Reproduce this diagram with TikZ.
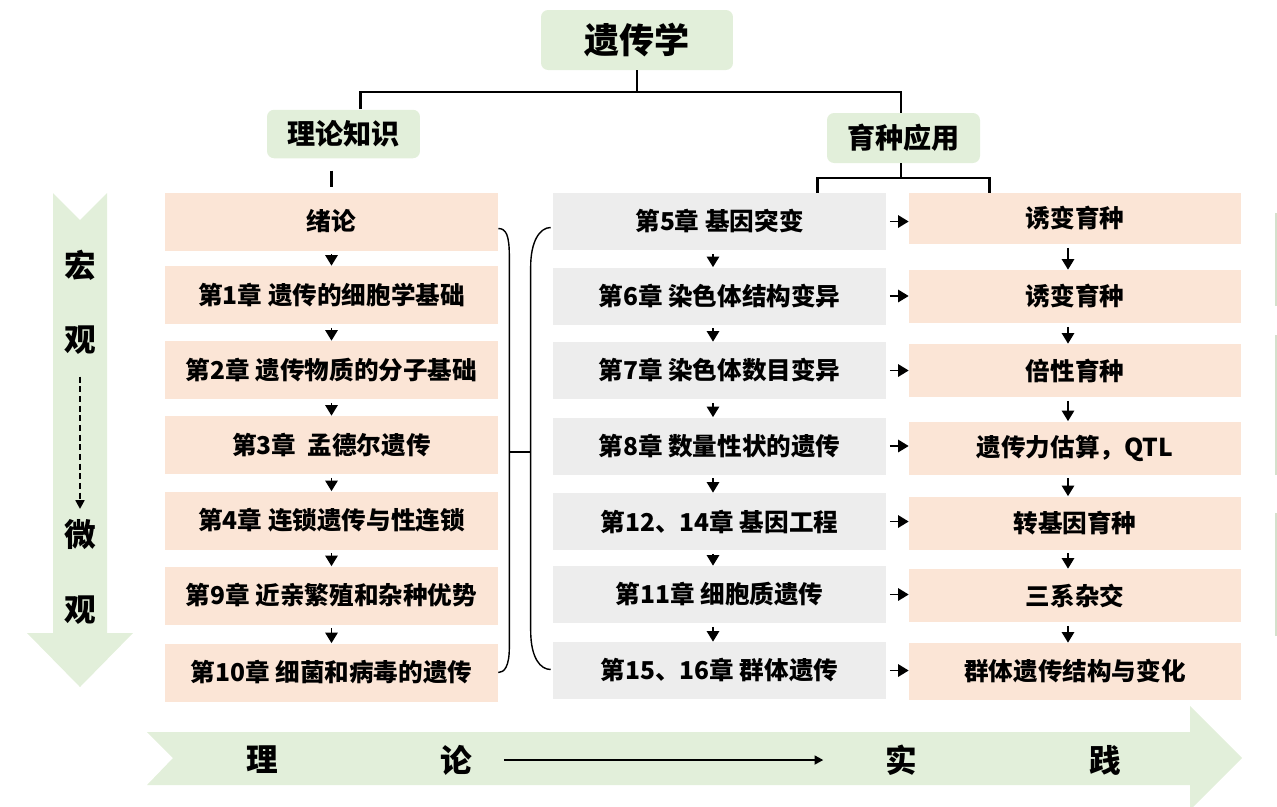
\documentclass[tikz,border=0pt]{standalone}
\usepackage{fontspec}
\setmainfont{Noto Sans CJK SC}
\usetikzlibrary{arrows.meta,calc,positioning}
\definecolor{leafgreen}{HTML}{E2EFDA}
\definecolor{peach}{HTML}{FBE5D6}
\definecolor{chapgray}{HTML}{EDEDED}
\tikzset{
  greenbox/.style={fill=leafgreen,rounded corners=4pt,font=\bfseries\fontsize{16}{18}\selectfont,minimum width=3.06cm,minimum height=0.97cm},
  peachbox/.style={fill=peach,minimum width=6.66cm,minimum height=1.16cm,font=\bfseries\fontsize{14}{16}\selectfont},
  graybox/.style={fill=chapgray,minimum width=6.66cm,minimum height=1.14cm,font=\bfseries\fontsize{14}{16}\selectfont},
  breedbox/.style={fill=peach,minimum width=6.64cm,minimum height=1.06cm,font=\bfseries\fontsize{14}{16}\selectfont},
  sidetext/.style={font=\bfseries\fontsize{18}{20}\selectfont,inner sep=0pt},
  tree/.style={line width=1.4pt},
  brace/.style={line width=0.8pt},
  arr/.style={line width=1.1pt,-{Triangle[length=6pt,width=7pt]},shorten <=2pt}
}
\begin{document}
\begin{tikzpicture}[x=0.02cm,y=-0.02cm]
\useasboundingbox (0,0) rectangle (1277,806);
\clip (0,0) rectangle (1277,806);
% big background arrows
\fill[leafgreen] (53,193) -- (80,220) -- (107,193) -- (107,633) -- (133,633) -- (80,687) -- (27,633) -- (53,633) -- cycle;
\fill[leafgreen] (147,732) -- (1190,732) -- (1190,706) -- (1242,758) -- (1190,810) -- (1190,785) -- (147,785) -- (173,758) -- cycle;
\draw[leafgreen!85!black!40!leafgreen,line width=0.6pt] (1276,213) -- (1276,306) (1276,335) -- (1276,475) (1276,513) -- (1276,636);

\node[greenbox,minimum width=3.84cm,minimum height=1.2cm,font=\bfseries\fontsize{20}{22}\selectfont] (title) at (637,40) {遗传学};
\node[greenbox] (theo) at (343.5,134) {理论知识};
\node[greenbox,minimum height=1cm] (appl) at (903.5,138) {育种应用};

\node[peachbox] (l0) at (331.5,221.5) {绪论};
\node[peachbox] (l1) at (331.5,295) {第1章 遗传的细胞学基础};
\node[peachbox] (l2) at (331.5,370) {第2章 遗传物质的分子基础};
\node[peachbox] (l3) at (331.5,445) {第3章~~孟德尔遗传};
\node[peachbox] (l4) at (331.5,520.5) {第4章 连锁遗传与性连锁};
\node[peachbox] (l5) at (331.5,595.5) {第9章 近亲繁殖和杂种优势};
\node[peachbox] (l6) at (331.5,672.5) {第10章 细菌和病毒的遗传};

\node[graybox] (m0) at (719.5,221.5) {第5章 基因突变};
\node[graybox] (m1) at (719.5,296) {第6章 染色体结构变异};
\node[graybox] (m2) at (719.5,370.5) {第7章 染色体数目变异};
\node[graybox] (m3) at (719.5,446) {第8章 数量性状的遗传};
\node[graybox] (m4) at (719.5,521.5) {第12、14章 基因工程};
\node[graybox] (m5) at (719.5,594.5) {第11章 细胞质遗传};
\node[graybox] (m6) at (719.5,670.5) {第15、16章 群体遗传};

\node[breedbox,minimum height=1.02cm] (r0) at (1075,218.5) {诱变育种};
\node[breedbox] (r1) at (1075,296.5) {诱变育种};
\node[breedbox] (r2) at (1075,370.5) {倍性育种};
\node[breedbox] (r3) at (1075,448) {遗传力估算，QTL};
\node[breedbox] (r4) at (1075,523) {转基因育种};
\node[breedbox] (r5) at (1075,595.5) {三系杂交};
\node[breedbox,minimum height=1.14cm] (r6) at (1075,671.5) {群体遗传结构与变化};

% tree on top
\coordinate (split) at (637,92);
\draw[tree] (title.south) -- (split);
\draw[tree] ([xshift=0.34cm]theo.north) |- (split) -| ([xshift=-0.05cm]appl.north);
\draw[tree,shorten <=6.8pt,shorten >=2.8pt] (l0.north |- theo.south) -- (l0.north);
\coordinate (bsplit) at (901,178);
\draw[tree] (appl.south -| bsplit) -- (bsplit);
\draw[tree] ($(m0.north east)+(-69,0)$) |- (bsplit) -| ($(r0.north west)+(81,0)$);

% brackets between the two columns
\draw[brace] ($(l0.east)+(0,7)$) .. controls ($(l0.east)+(8,7)$) and ($(l0.east)+(11,14)$) .. ($(l0.east)+(11,35)$) -- ($(l6.east)+(11,-25)$) .. controls ($(l6.east)+(11,-6)$) and ($(l6.east)+(6,0)$) .. (l6.east);
\draw[brace] ($(m0.west)+(-2,6)$) .. controls ($(m0.west)+(-13,6)$) and ($(m0.west)+(-22,20)$) .. ($(m0.west)+(-22,45)$) -- ($(m6.west)+(-22,-40)$) .. controls ($(m6.west)+(-22,-12)$) and ($(m6.west)+(-12,-1)$) .. ($(m6.west)+(-2,-1)$);
\draw[tree] ($(l3.east)+(11,7)$) -- ($(l3.east)+(33,7)$);

% arrows down the columns
\draw[arr] (l0.south) -- (l1.north);
\draw[arr] (l1.south) -- (l2.north);
\draw[arr] (l2.south) -- (l3.north);
\draw[arr] (l3.south) -- (l4.north);
\draw[arr] (l4.south) -- (l5.north);
\draw[arr] (l5.south) -- (l6.north);
\draw[arr] ([xshift=-0.13cm]m0.south) -- ([xshift=-0.13cm]m1.north);
\draw[arr] ([xshift=-0.13cm]m1.south) -- ([xshift=-0.13cm]m2.north);
\draw[arr] ([xshift=-0.13cm]m2.south) -- ([xshift=-0.13cm]m3.north);
\draw[arr] ([xshift=-0.13cm]m3.south) -- ([xshift=-0.13cm]m4.north);
\draw[arr] ([xshift=-0.13cm]m4.south) -- ([xshift=-0.13cm]m5.north);
\draw[arr] ([xshift=-0.13cm]m5.south) -- ([xshift=-0.13cm]m6.north);
\draw[arr] ([xshift=-0.14cm]r0.south) -- ([xshift=-0.14cm]r1.north);
\draw[arr] ([xshift=-0.14cm]r1.south) -- ([xshift=-0.14cm]r2.north);
\draw[arr] ([xshift=-0.14cm]r2.south) -- ([xshift=-0.14cm]r3.north);
\draw[arr] ([xshift=-0.14cm]r3.south) -- ([xshift=-0.14cm]r4.north);
\draw[arr] ([xshift=-0.14cm]r4.south) -- ([xshift=-0.14cm]r5.north);
\draw[arr] ([xshift=-0.14cm]r5.south) -- ([xshift=-0.14cm]r6.north);

% chapter -> breeding
\draw[arr] (m0.east) -- (m0.east -| r0.west);
\draw[arr] (m1.east) -- (m1.east -| r1.west);
\draw[arr] (m2.east) -- (m2.east -| r2.west);
\draw[arr] (m3.east) -- (m3.east -| r3.west);
\draw[arr] (m4.east) -- (m4.east -| r4.west);
\draw[arr] (m5.east) -- (m5.east -| r5.west);
\draw[arr] (m6.east) -- (m6.east -| r6.west);

% side labels
\node[sidetext] (hong) at (80,265) {宏};
\node[sidetext] (guan1) at (80,340) {观};
\node[sidetext] (wei) at (80,535) {微};
\node[sidetext] (guan2) at (80,610) {观};
\draw[line width=1.3pt,dash pattern=on 3.5pt off 2pt,-{Triangle[length=5pt,width=5pt]},shorten <=12.5pt,shorten >=6pt] (guan1) -- (wei);

\node[sidetext] (li) at (262,760) {理};
\node[sidetext] (lun) at (456,760) {论};
\node[sidetext] (shi) at (901,760) {实};
\node[sidetext] (jian) at (1105,760) {践};
\draw[line width=1.5pt,-{Triangle[length=5pt,width=5pt]},shorten <=18pt,shorten >=35pt] (lun) -- (shi);
\end{tikzpicture}
\end{document}
